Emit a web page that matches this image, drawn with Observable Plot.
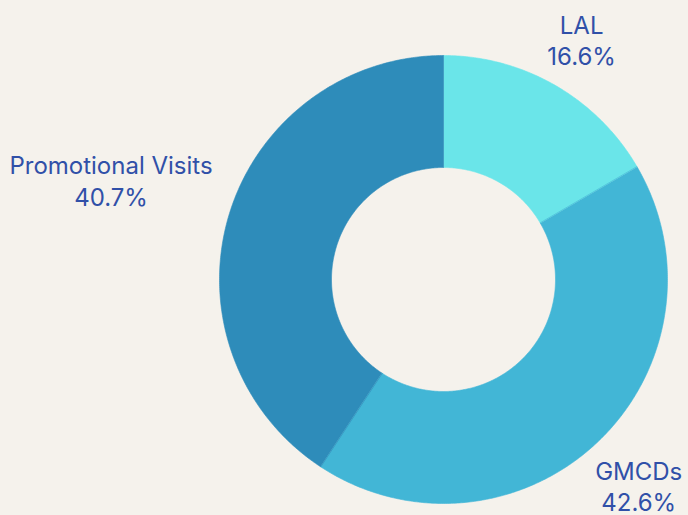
<!DOCTYPE html>
<html>
<head>
<meta charset="utf-8">
<script src="https://cdn.jsdelivr.net/npm/d3@7"></script>
<script src="https://cdn.jsdelivr.net/npm/@observablehq/plot@0.6"></script>
<style>
  html, body { margin: 0; padding: 0; background: #f5f2ec; overflow: hidden; }
  #chart { width: 688px; height: 515px; }
</style>
</head>
<body>
<div id="chart"></div>
<script>
// Data
const categories = ["LAL", "GMCDs", "Promotional Visits"];
const shares = [16.6, 42.6, 40.7];
const sliceColors = ["#6ae5e9", "#42b6d6", "#2e8cba"];

// Layout
const W = 688, H = 515;
const cx = 443, cy = 279;
const R = 224, r0 = 112;
const fontSize = 24, lineHeight = 1.3;
const fontFamily = "Inter, 'Noto Sans', sans-serif";
const textColor = "#3050a8";

const total = d3.sum(shares);
const pt = (a, rad) => [cx + rad * Math.sin(a), cy - rad * Math.cos(a)];

// Build slice polygons
const polys = [];
const labelData = [];
const ctx = document.createElement("canvas").getContext("2d");
ctx.font = `${fontSize}px Inter`;
let acc = 0;
categories.forEach((name, i) => {
  const a0 = acc / total * 2 * Math.PI;
  acc += shares[i];
  const a1 = acc / total * 2 * Math.PI;
  const n = Math.max(2, Math.ceil((a1 - a0) / (Math.PI / 360)));
  for (let k = 0; k <= n; k++) {
    const a = a0 + (a1 - a0) * k / n;
    const [x, y] = pt(a, R);
    polys.push({name, x, y});
  }
  for (let k = n; k >= 0; k--) {
    const a = a0 + (a1 - a0) * k / n;
    const [x, y] = pt(a, r0);
    polys.push({name, x, y});
  }
  // label placement (outside, box touching a ray point)
  const am = (a0 + a1) / 2;
  const s = Math.sin(am), c = Math.cos(am);
  const pct = shares[i].toFixed(1) + "%";
  const w = Math.max(ctx.measureText(name).width, ctx.measureText(pct).width) / 2;
  const h = fontSize * lineHeight;  // half of two lines
  const ext = Math.min(Math.abs(s) > 1e-6 ? w / Math.abs(s) : Infinity, Math.abs(c) > 1e-6 ? h / Math.abs(c) : Infinity);
  const [lx, ly] = pt(am, R + 17 + ext);
  labelData.push({name, text: name + "\n" + pct, x: lx, y: ly});
});

const chart = Plot.plot({
  width: W,
  height: H,
  margin: 0,
  x: {domain: [0, W], range: [0, W], axis: null},
  y: {domain: [0, H], range: [0, H], axis: null},
  color: {domain: categories, range: sliceColors},
  style: {background: "#f5f2ec", fontFamily},
  marks: [
    Plot.line(polys, {x: "x", y: "y", z: "name", fill: "name", stroke: "name", strokeWidth: 0.6, curve: "linear-closed"}),
    Plot.text(labelData, {x: "x", y: "y", text: "text", fill: textColor, fontSize, lineHeight, textAnchor: "middle", lineAnchor: "middle", fontFamily})
  ]
});
document.getElementById("chart").appendChild(chart);
</script>
</body>
</html>
